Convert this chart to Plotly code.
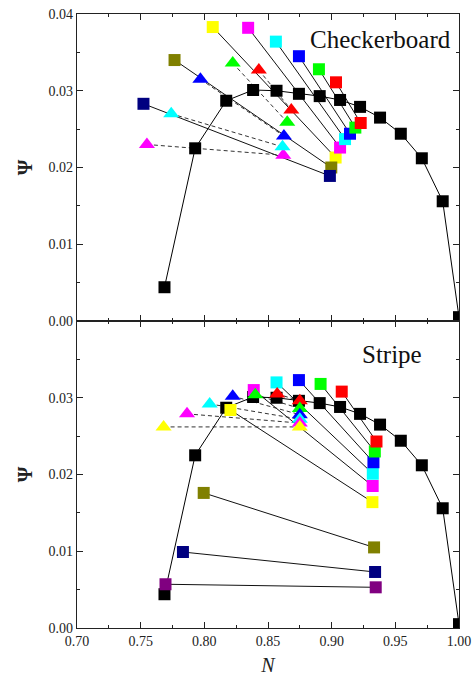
import plotly.graph_objects as go
from plotly.subplots import make_subplots

# ---- shared black curve ----
N_black = [0.7687, 0.7928, 0.8172, 0.8383, 0.8567, 0.8743, 0.8906, 0.9066, 0.9223, 0.9380, 0.9543, 0.9708, 0.9872, 1.0000]
psi_black = [0.0044, 0.0225, 0.0287, 0.0301, 0.0300, 0.0296, 0.0293, 0.0288, 0.0279, 0.0265, 0.0244, 0.0212, 0.0156, 0.0005]

# ---- Checkerboard: squares (solid lines) ----
cb_sq_colors = ["#FFFF00", "#FF00FF", "#00FFFF", "#0000FF", "#00FF00", "#FF0000", "#808000", "#000080"]
cb_sq_N_start = [0.8066, 0.8344, 0.8562, 0.8743, 0.8900, 0.9034, 0.7766, 0.7522]
cb_sq_psi_start = [0.0383, 0.0382, 0.0364, 0.0345, 0.0328, 0.0311, 0.0340, 0.0283]
cb_sq_N_end = [0.9031, 0.9066, 0.9105, 0.9144, 0.9186, 0.9228, 0.8997, 0.8986]
cb_sq_psi_end = [0.0213, 0.0226, 0.0237, 0.0244, 0.0252, 0.0258, 0.0200, 0.0189]

# ---- Checkerboard: triangles (dashed lines) ----
cb_tri_colors = ["#FF00FF", "#00FFFF", "#0000FF", "#00FF00", "#FF0000"]
cb_tri_N_start = [0.7549, 0.7740, 0.7969, 0.8223, 0.8428]
cb_tri_psi_start = [0.0230, 0.0270, 0.0315, 0.0336, 0.0327]
cb_tri_N_end = [0.8620, 0.8614, 0.8625, 0.8651, 0.8683]
cb_tri_psi_end = [0.0216, 0.0227, 0.0241, 0.0259, 0.0275]

# ---- Stripe: squares (solid lines) ----
st_sq_colors = ["#FFFF00", "#FF00FF", "#00FFFF", "#0000FF", "#00FF00", "#FF0000", "#808000", "#000080", "#800080"]
st_sq_N_start = [0.8205, 0.8388, 0.8567, 0.8743, 0.8913, 0.9079, 0.7995, 0.7832, 0.7695]
st_sq_psi_start = [0.0284, 0.0310, 0.0320, 0.0323, 0.0318, 0.0308, 0.0176, 0.0099, 0.0057]
st_sq_N_end = [0.9320, 0.9322, 0.9323, 0.9328, 0.9339, 0.9352, 0.9333, 0.9341, 0.9346]
st_sq_psi_end = [0.0164, 0.0185, 0.0201, 0.0216, 0.0230, 0.0243, 0.0105, 0.0073, 0.0053]

# ---- Stripe: triangles (dashed lines) ----
st_tri_colors = ["#FF0000", "#00FF00", "#0000FF", "#00FFFF", "#FF00FF", "#FFFF00"]
st_tri_N_start = [0.8572, 0.8400, 0.8223, 0.8042, 0.7864, 0.7680]
st_tri_psi_start = [0.0305, 0.0304, 0.0302, 0.0292, 0.0279, 0.0262]
st_tri_N_end = [0.8750, 0.8750, 0.8750, 0.8750, 0.8750, 0.8750]
st_tri_psi_end = [0.0296, 0.0286, 0.0278, 0.0272, 0.0267, 0.0262]

x_ticks = [0.70, 0.75, 0.80, 0.85, 0.90, 0.95, 1.00]
y_ticks_top = [0.00, 0.01, 0.02, 0.03, 0.04]
y_ticks_bottom = [0.00, 0.01, 0.02, 0.03]

FONT = "Liberation Serif, Times New Roman, serif"
SQ = 12
TRI = 14

fig = make_subplots(rows=2, cols=1, shared_xaxes=True, vertical_spacing=0)


def add_panel(row, sq_c, sq_x0, sq_y0, sq_x1, sq_y1, tr_c, tr_x0, tr_y0, tr_x1, tr_y1):
    # connecting lines
    for i in range(len(sq_c)):
        fig.add_trace(go.Scatter(x=[sq_x0[i], sq_x1[i]], y=[sq_y0[i], sq_y1[i]], mode="lines",
                                 line=dict(color="#111", width=1), showlegend=False, hoverinfo="skip"),
                      row=row, col=1)
    for i in range(len(tr_c)):
        fig.add_trace(go.Scatter(x=[tr_x0[i], tr_x1[i]], y=[tr_y0[i], tr_y1[i]], mode="lines",
                                 line=dict(color="#333", width=1, dash="4px,3px"), showlegend=False,
                                 hoverinfo="skip"),
                      row=row, col=1)
    # black curve
    fig.add_trace(go.Scatter(x=N_black, y=psi_black, mode="lines+markers",
                             line=dict(color="black", width=1),
                             marker=dict(symbol="square", size=SQ, color="black"),
                             showlegend=False), row=row, col=1)
    # colored markers
    for i in range(len(sq_c)):
        fig.add_trace(go.Scatter(x=[sq_x0[i], sq_x1[i]], y=[sq_y0[i], sq_y1[i]], mode="markers",
                                 marker=dict(symbol="square", size=SQ, color=sq_c[i]),
                                 showlegend=False), row=row, col=1)
    for i in range(len(tr_c)):
        fig.add_trace(go.Scatter(x=[tr_x0[i], tr_x1[i]], y=[tr_y0[i], tr_y1[i]], mode="markers",
                                 marker=dict(symbol="triangle-up", size=TRI, color=tr_c[i]),
                                 showlegend=False), row=row, col=1)


add_panel(1, cb_sq_colors, cb_sq_N_start, cb_sq_psi_start, cb_sq_N_end, cb_sq_psi_end,
          cb_tri_colors, cb_tri_N_start, cb_tri_psi_start, cb_tri_N_end, cb_tri_psi_end)
add_panel(2, st_sq_colors, st_sq_N_start, st_sq_psi_start, st_sq_N_end, st_sq_psi_end,
          st_tri_colors, st_tri_N_start, st_tri_psi_start, st_tri_N_end, st_tri_psi_end)

axis_common = dict(showline=True, linecolor="#222", linewidth=1.2, mirror="ticks",
                   ticks="inside", ticklen=6, tickwidth=1, tickcolor="#222",
                   showgrid=False, zeroline=False, automargin=False,
                   tickfont=dict(family=FONT, size=14, color="#222"))

fig.update_xaxes(range=[0.70, 1.00], tickvals=x_ticks, tickformat=".2f",
                 minor=dict(dtick=0.025, tick0=0.7, ticks="inside", ticklen=3, tickcolor="#222"),
                 **axis_common)
fig.update_xaxes(showticklabels=False, row=1, col=1)
fig.update_xaxes(showticklabels=True, row=2, col=1,
                 title=dict(text="<i>N</i>", font=dict(family=FONT, size=20, color="#222"), standoff=10))

fig.update_yaxes(range=[0, 0.04], tickformat=".2f",
                 minor=dict(dtick=0.005, tick0=0, ticks="inside", ticklen=3, tickcolor="#222"),
                 title=dict(text="<b>Ψ</b>", font=dict(family=FONT, size=20, color="#222"), standoff=10),
                 **axis_common)
fig.update_yaxes(tickvals=y_ticks_top, row=1, col=1)
fig.update_yaxes(tickvals=y_ticks_bottom, row=2, col=1)

fig.add_annotation(text="Checkerboard", x=0.995, y=0.0367, xref="x", yref="y",
                   xanchor="right", yanchor="middle", showarrow=False,
                   font=dict(family=FONT, size=25, color="#111"))
fig.add_annotation(text="Stripe", x=0.9724, y=0.0356, xref="x2", yref="y2",
                   xanchor="right", yanchor="middle", showarrow=False,
                   font=dict(family=FONT, size=25, color="#111"))

fig.update_layout(width=474, height=681, margin=dict(l=77, r=15, t=14, b=53),
                  plot_bgcolor="white", paper_bgcolor="white")

fig.write_html("out.html", config={"displayModeBar": False},
               post_script="document.body.style.margin='0';document.body.style.overflow='hidden';")
